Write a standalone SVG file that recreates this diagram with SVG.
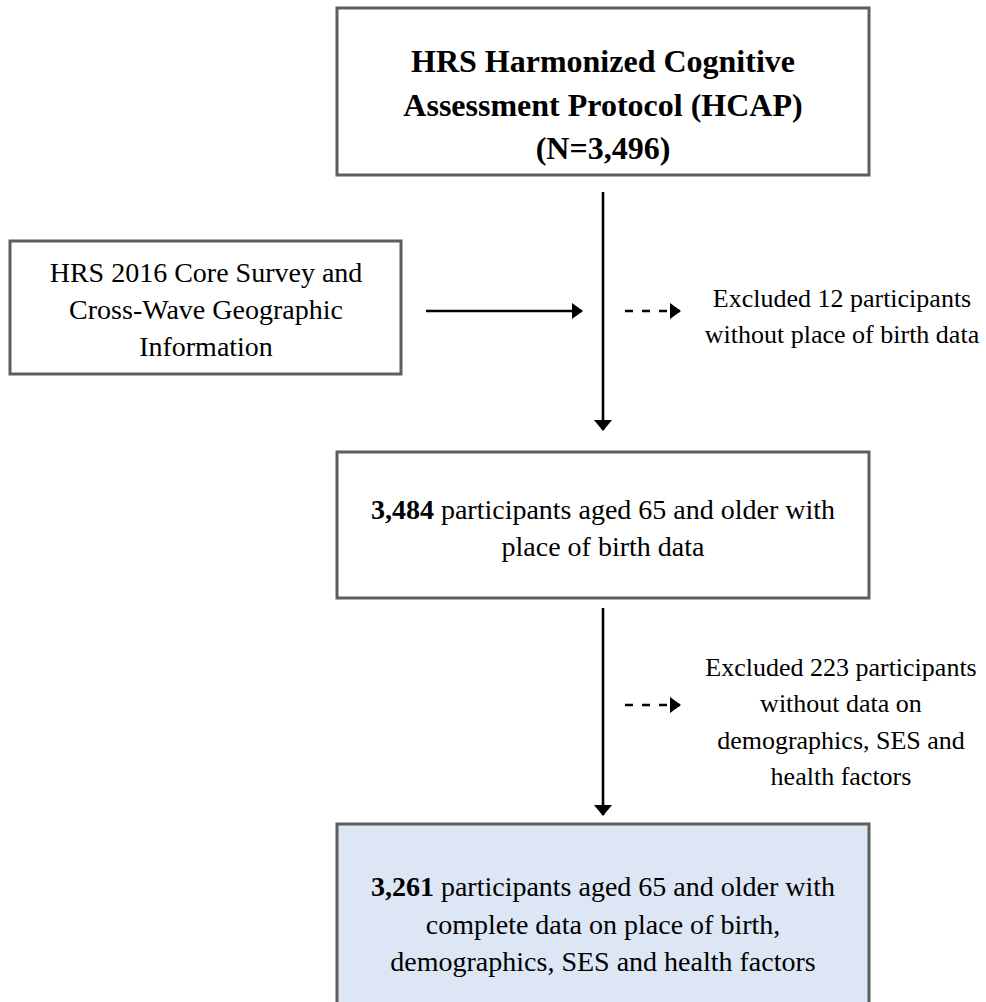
<svg xmlns="http://www.w3.org/2000/svg" width="986" height="1002" viewBox="0 0 986 1002">
<style>
.box{fill:#ffffff;stroke:#5e5e5e;stroke-width:3}
.final{fill:#dde6f5;stroke:#5e5e5e;stroke-width:3}
.t{font-family:"Liberation Serif","Times New Roman",serif;font-size:28px;fill:#000;text-anchor:middle}
.tb{font-family:"Liberation Serif","Times New Roman",serif;font-size:32px;font-weight:bold;fill:#000;text-anchor:middle}
.ts{font-family:"Liberation Serif","Times New Roman",serif;font-size:26px;fill:#000;text-anchor:middle}
.b{font-weight:bold}
.ln{stroke:#000;stroke-width:2.6;fill:none}
.dash{stroke:#000;stroke-width:2.6;fill:none;stroke-dasharray:8 9}
</style>
<defs>
<marker id="ah" viewBox="0 0 11 16" refX="10" refY="8" markerWidth="11" markerHeight="16" markerUnits="userSpaceOnUse" orient="auto">
<path d="M0,0 L11,8 L0,16 Z" fill="#000"/>
</marker>
<marker id="ahv" viewBox="0 0 11 18" refX="10" refY="9" markerWidth="11" markerHeight="18" markerUnits="userSpaceOnUse" orient="auto">
<path d="M0,0 L11,9 L0,18 Z" fill="#000"/>
</marker>
</defs>
<g id="connectors">
<line class="ln" x1="603" y1="192" x2="603" y2="430" marker-end="url(#ahv)"/>
<line class="ln" x1="426" y1="311" x2="582" y2="311" marker-end="url(#ah)"/>
<line class="dash" x1="625" y1="311" x2="680" y2="311" marker-end="url(#ah)"/>
<line class="ln" x1="603" y1="608" x2="603" y2="815" marker-end="url(#ahv)"/>
<line class="dash" x1="625" y1="705" x2="680" y2="705" marker-end="url(#ah)"/>
</g>
<g id="hcap">
<rect class="box" x="337" y="8" width="532" height="167"/>
<text class="tb" x="603" y="72">HRS Harmonized Cognitive</text>
<text class="tb" x="603" y="116">Assessment Protocol (HCAP)</text>
<text class="tb" x="603" y="159">(N=3,496)</text>
</g>
<g id="core-survey">
<rect class="box" x="10" y="241" width="391" height="133"/>
<text class="t" x="206" y="282">HRS 2016 Core Survey and</text>
<text class="t" x="206" y="319">Cross-Wave Geographic</text>
<text class="t" x="206" y="356">Information</text>
</g>
<g id="excluded-12">
<text class="ts" x="842" y="307">Excluded 12 participants</text>
<text class="ts" x="842" y="343">without place of birth data</text>
</g>
<g id="n3484">
<rect class="box" x="337" y="452" width="532" height="146"/>
<text class="t" x="603" y="519"><tspan class="b">3,484</tspan> participants aged 65 and older with</text>
<text class="t" x="603" y="556">place of birth data</text>
</g>
<g id="excluded-223">
<text class="ts" x="841" y="676">Excluded 223 participants</text>
<text class="ts" x="841" y="712">without data on</text>
<text class="ts" x="841" y="749">demographics, SES and</text>
<text class="ts" x="841" y="785">health factors</text>
</g>
<g id="n3261">
<rect class="final" x="337" y="824" width="532" height="200"/>
<text class="t" x="603" y="896"><tspan class="b">3,261</tspan> participants aged 65 and older with</text>
<text class="t" x="603" y="934">complete data on place of birth,</text>
<text class="t" x="603" y="971">demographics, SES and health factors</text>
</g>
</svg>
